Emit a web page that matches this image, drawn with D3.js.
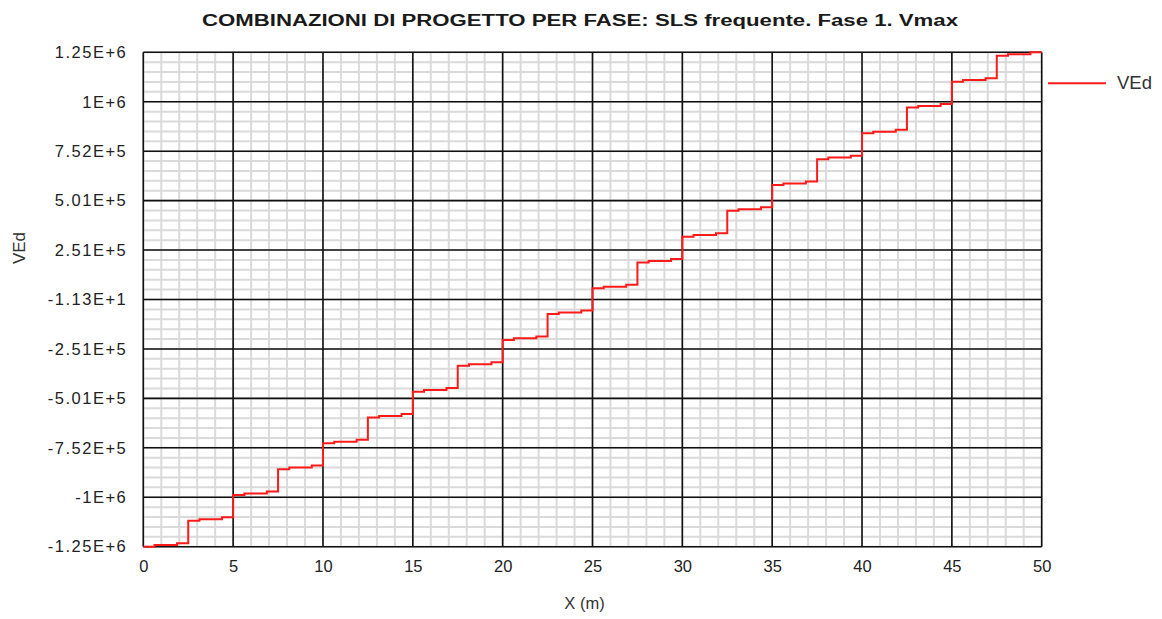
<!DOCTYPE html>
<html>
<head>
<meta charset="utf-8">
<script src="https://cdn.jsdelivr.net/npm/d3@7"></script>
<style>
  body { margin: 0; background: #fff; }
  text { font-family: "Liberation Sans", Arial, sans-serif; }
</style>
</head>
<body>
<svg id="chart" width="1162" height="619"></svg>
<script>
// ---- chart data ----
const chartTitle = "COMBINAZIONI DI PROGETTO PER FASE: SLS frequente. Fase 1. Vmax";
const seriesName = "VEd";
const xTitle = "X (m)";
const yTitle = "VEd";

// abscissae (m) where the shear value changes
const stepX = [
  0, 0.625, 1.875, 2.5, 3.125, 4.375, 5, 5.625, 6.875, 7.5, 8.125, 9.375,
  10, 10.625, 11.875, 12.5, 13.125, 14.375, 15, 15.625, 16.875, 17.5, 18.125, 19.375,
  20, 20.625, 21.875, 22.5, 23.125, 24.375, 25, 25.625, 26.875, 27.5, 28.125, 29.375,
  30, 30.625, 31.875, 32.5, 33.125, 34.375, 35, 35.625, 36.875, 37.5, 38.125, 39.375,
  40, 40.625, 41.875, 42.5, 43.125, 44.375, 45, 45.625, 46.875, 47.5, 48.125, 49.375,
  50
];
// VEd value holding from each abscissa onwards
const stepVEd = [
  -1253000, -1245000, -1235000, -1122000, -1114000, -1104000,
  -991000, -983000, -973000, -860000, -852000, -842000,
  -729000, -721000, -711000, -598000, -590000, -580000,
  -467000, -459000, -449000, -336000, -328000, -318000,
  -205000, -197000, -187000, -74000, -66000, -56000,
  56500, 64500, 74500, 187400, 195400, 205400,
  318400, 326400, 336400, 449300, 457300, 467300,
  580300, 588300, 598300, 711200, 719200, 729200,
  842200, 850200, 860200, 973100, 981100, 991100,
  1104000, 1112000, 1122000, 1235000, 1243000, 1253000,
  1253000
];

const xTickValues = [0, 5, 10, 15, 20, 25, 30, 35, 40, 45, 50];
const yTickLabels = ["-1.25E+6", "-1E+6", "-7.52E+5", "-5.01E+5", "-2.51E+5", "-1.13E+1",
                     "2.51E+5", "5.01E+5", "7.52E+5", "1E+6", "1.25E+6"];
const yMin = -1253022.6;
const yMax = 1253000;

// ---- layout ----
const plot = { left: 143.3, right: 1041.7, top: 52.3, bottom: 546.7 };
const svg = d3.select("#chart");

const x = d3.scaleLinear().domain([0, 50]).range([plot.left, plot.right]);
const y = d3.scaleLinear().domain([yMin, yMax]).range([plot.bottom, plot.top]);

const yTickValues = d3.range(yTickLabels.length).map(i => yMin + i * (yMax - yMin) / (yTickLabels.length - 1));
const yMinorValues = d3.range(51).map(i => yMin + i * (yMax - yMin) / 50);
const xMinorValues = d3.range(0, 51, 1);

const points = stepX.map((d, i) => [d, stepVEd[i]]);

// minor grid
const minor = svg.append("g").attr("stroke", "#dadada").attr("stroke-width", 2);
minor.selectAll("line.v").data(xMinorValues).join("line")
  .attr("x1", d => x(d)).attr("x2", d => x(d))
  .attr("y1", plot.top).attr("y2", plot.bottom);
minor.selectAll("line.h").data(yMinorValues).join("line")
  .attr("x1", plot.left).attr("x2", plot.right)
  .attr("y1", d => y(d)).attr("y2", d => y(d));

// major grid
const major = svg.append("g").attr("stroke", "#111").attr("stroke-width", 1.6);
major.selectAll("line.v").data(xTickValues).join("line")
  .attr("x1", d => x(d)).attr("x2", d => x(d))
  .attr("y1", plot.top).attr("y2", plot.bottom);
major.selectAll("line.h").data(yTickValues).join("line")
  .attr("x1", plot.left).attr("x2", plot.right)
  .attr("y1", d => y(d)).attr("y2", d => y(d));

// shear step line
svg.append("path")
  .datum(points)
  .attr("fill", "none")
  .attr("stroke", "#ff1a1a")
  .attr("stroke-width", 2)
  .attr("d", d3.line().x(d => x(d[0])).y(d => y(d[1])).curve(d3.curveStepAfter));

// axes
const yAxis = svg.append("g")
  .attr("transform", `translate(${plot.left - 16},0)`)
  .call(d3.axisLeft(y).tickValues(yTickValues).tickSize(0).tickPadding(0)
    .tickFormat((d, i) => yTickLabels[i]));
yAxis.select(".domain").remove();
yAxis.selectAll("text")
  .attr("fill", "#222")
  .attr("font-size", 16.5)
  .attr("letter-spacing", 1.5)
  .attr("font-family", "Liberation Sans, Arial, sans-serif");

const xAxis = svg.append("g")
  .attr("transform", `translate(0,${plot.bottom + 14})`)
  .call(d3.axisBottom(x).tickValues(xTickValues).tickSize(0).tickPadding(0)
    .tickFormat(d3.format("d")));
xAxis.select(".domain").remove();
xAxis.selectAll("text")
  .attr("fill", "#222")
  .attr("font-size", 16.5)
  .attr("font-family", "Liberation Sans, Arial, sans-serif");

// titles
svg.append("text")
  .attr("x", 202).attr("y", 26)
  .attr("font-size", 16).attr("font-weight", "bold").attr("fill", "#1a1a1a")
  .attr("textLength", 756).attr("lengthAdjust", "spacingAndGlyphs")
  .text(chartTitle);

svg.append("text")
  .attr("x", (plot.left + plot.right) / 2 - 8).attr("y", 609)
  .attr("text-anchor", "middle")
  .attr("font-size", 16.5).attr("fill", "#333")
  .text(xTitle);

svg.append("text")
  .attr("transform", "translate(25,248) rotate(-90)")
  .attr("text-anchor", "middle")
  .attr("font-size", 17).attr("fill", "#333")
  .text(yTitle);

// legend
const legend = svg.append("g");
legend.append("line")
  .attr("x1", 1048).attr("x2", 1106).attr("y1", 83.3).attr("y2", 83.3)
  .attr("stroke", "#ff1a1a").attr("stroke-width", 2);
legend.append("text")
  .attr("x", 1117).attr("y", 88.5)
  .attr("font-size", 18.5).attr("fill", "#333")
  .text(seriesName);
</script>
</body>
</html>
